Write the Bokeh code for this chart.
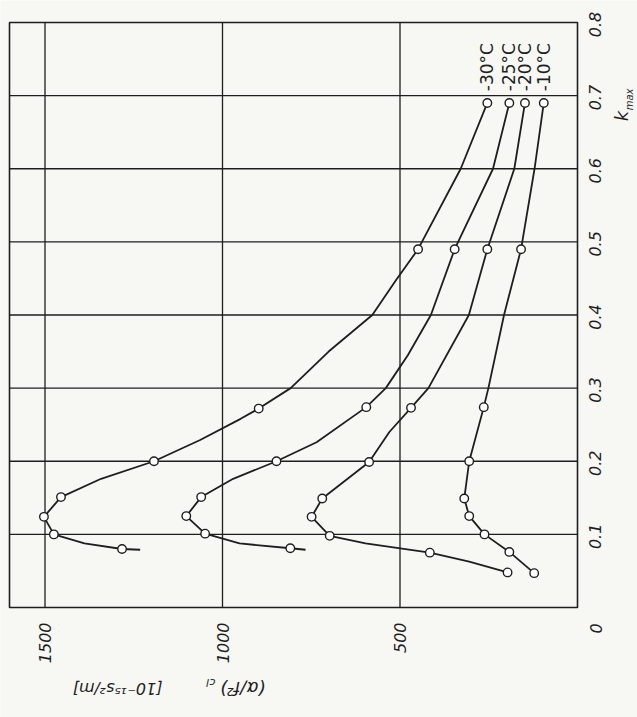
import math
from bokeh.plotting import figure
from bokeh.models import Range1d
from bokeh.core.properties import value
from bokeh.embed import file_html
from bokeh.resources import INLINE

# ---------------- data ----------------
temps = ["-30°C", "-25°C", "-20°C", "-10°C"]

# measured points: alpha/f^2 (10^-15 s^2/m) and k_max
a_m30 = [254, 449, 898, 1193, 1455, 1503, 1475, 1283]
k_m30 = [0.69, 0.49, 0.272, 0.200, 0.151, 0.124, 0.100, 0.080]
a_m25 = [192, 346, 595, 848, 1060, 1102, 1049, 809]
k_m25 = [0.69, 0.49, 0.274, 0.200, 0.151, 0.125, 0.101, 0.081]
a_m20 = [148, 254, 469, 587, 719, 749, 698, 416, 197]
k_m20 = [0.69, 0.49, 0.273, 0.199, 0.149, 0.124, 0.098, 0.075, 0.048]
a_m10 = [95, 159, 264, 305, 319, 305, 262, 192, 122]
k_m10 = [0.69, 0.49, 0.274, 0.200, 0.149, 0.125, 0.100, 0.076, 0.047]

# drawn curves
a_c30 = [254, 329, 449, 511, 578, 701, 808, 898, 949, 1063, 1193, 1342, 1455, 1503, 1475, 1389, 1283, 1232]
k_c30 = [0.69, 0.60, 0.49, 0.448, 0.40, 0.35, 0.30, 0.272, 0.258, 0.229, 0.200, 0.176, 0.151, 0.124, 0.100, 0.0876, 0.080, 0.079]
a_c25 = [192, 238, 346, 413, 478, 540, 595, 735, 848, 970, 1060, 1102, 1049, 952, 809, 766]
k_c25 = [0.69, 0.60, 0.49, 0.40, 0.345, 0.30, 0.274, 0.226, 0.200, 0.176, 0.151, 0.125, 0.101, 0.0876, 0.081, 0.079]
a_c20 = [148, 178, 254, 306, 420, 469, 530, 587, 719, 749, 698, 597, 416, 305, 197]
k_c20 = [0.69, 0.60, 0.49, 0.40, 0.30, 0.273, 0.240, 0.199, 0.149, 0.124, 0.098, 0.0877, 0.075, 0.0627, 0.048]
a_c10 = [95, 121, 159, 207, 251, 264, 305, 319, 305, 262, 192, 122]
k_c10 = [0.69, 0.60, 0.49, 0.40, 0.30, 0.274, 0.200, 0.149, 0.125, 0.100, 0.076, 0.047]

label_a = [254, 192, 148, 95]
label_k = [0.706, 0.706, 0.706, 0.706]

alpha_lim = [0, 1600]
k_lim = [0.0, 0.8]
alpha_ticks = [500, 1000, 1500]
alpha_tick_labels = ["500", "1000", "1500"]
k_ticks = [0.1, 0.2, 0.3, 0.4, 0.5, 0.6, 0.7, 0.8]
k_tick_labels = ["0.1", "0.2", "0.3", "0.4", "0.5", "0.6", "0.7", "0.8"]
k_grid = [0.1, 0.2, 0.3, 0.4, 0.5, 0.6, 0.7]

# ---------------- figure (the frame is drawn inside a full-page plot) ----------------
W, H = 637, 717
FL, FR, FT, FB = 9, 577, 22, 607          # frame edges in page pixels
ax_per_px = (alpha_lim[1] - alpha_lim[0]) / (FR - FL)
k_per_px = (k_lim[1] - k_lim[0]) / (FB - FT)
x_start = alpha_lim[0] + (FR - 0) * ax_per_px
x_end = alpha_lim[0] - (W - FR) * ax_per_px
y_start = k_lim[0] - (H - FB) * k_per_px
y_end = k_lim[0] + FB * k_per_px

BG = "#f7f7f4"
INK = "#1e1e1e"
FONT = "DejaVu Sans"

p = figure(width=W, height=H, output_backend="svg", toolbar_location=None,
           x_range=Range1d(x_start, x_end), y_range=Range1d(y_start, y_end),
           x_axis_location=None, y_axis_location=None, min_border=0)
p.background_fill_color = BG
p.border_fill_color = BG
p.outline_line_color = None
p.xgrid.visible = False
p.ygrid.visible = False

# grid lines
p.segment(x0=alpha_ticks, x1=alpha_ticks, y0=[k_lim[0]] * len(alpha_ticks),
          y1=[k_lim[1]] * len(alpha_ticks), line_color=INK, line_width=1.3)
p.segment(x0=[alpha_lim[0]] * len(k_grid), x1=[alpha_lim[1]] * len(k_grid),
          y0=k_grid, y1=k_grid, line_color=INK, line_width=1.3)
# frame
p.quad(left=[alpha_lim[1]], right=[alpha_lim[0]], bottom=[k_lim[0]], top=[k_lim[1]],
       fill_color=None, line_color=INK, line_width=1.6)

# curves and measured points
curves = [(a_c30, k_c30), (a_c25, k_c25), (a_c20, k_c20), (a_c10, k_c10)]
marks = [(a_m30, k_m30), (a_m25, k_m25), (a_m20, k_m20), (a_m10, k_m10)]
for (ca, ck) in curves:
    p.line(ca, ck, line_color=INK, line_width=1.8)
for (ma, mk) in marks:
    p.scatter(ma, mk, marker="circle", size=8.5, fill_color="white",
              line_color=INK, line_width=1.4)

# curve labels
p.text(x=label_a, y=label_k, text=temps, angle=math.pi / 2,
       text_align="left", text_baseline="middle",
       text_font=value(FONT), text_font_size="17px", text_color=INK)

# tick labels (rotated, as in the printed figure)
p.text(x=alpha_ticks, y=[k_lim[0]] * len(alpha_ticks), text=alpha_tick_labels,
       angle=math.pi / 2, y_offset=15, text_align="right", text_baseline="middle",
       text_font=value(FONT), text_font_style="italic", text_font_size="16px",
       text_color=INK)
p.text(x=[alpha_lim[0]] * len(k_ticks), y=k_ticks, text=k_tick_labels,
       angle=math.pi / 2, x_offset=17, y_offset=2, text_align="center",
       text_baseline="middle",
       text_font=value(FONT), text_font_style="italic", text_font_size="16px",
       text_color=INK)
p.text(x=[alpha_lim[0]], y=[k_lim[0]], text=["0"], angle=math.pi / 2,
       x_offset=18, y_offset=21, text_align="center", text_baseline="middle",
       text_font=value(FONT), text_font_style="italic", text_font_size="16px",
       text_color=INK)

# k_max axis title
p.text(x=[alpha_lim[0]], y=[0.665], text=["k"], angle=math.pi / 2,
       x_offset=44, text_align="left", text_baseline="middle",
       text_font=value(FONT), text_font_style="italic", text_font_size="18px",
       text_color=INK)
p.text(x=[alpha_lim[0]], y=[0.680], text=["max"], angle=math.pi / 2,
       x_offset=52, text_align="left", text_baseline="middle",
       text_font=value(FONT), text_font_style="italic", text_font_size="10px",
       text_color=INK)

# alpha axis title, printed upside down
p.text(x=[879], y=[-0.1108], text=["(α/f²)"], angle=math.pi,
       text_align="left", text_baseline="middle",
       text_font=value(FONT), text_font_style="italic", text_font_size="18px",
       text_color=INK)
p.text(x=[1020], y=[-0.1030], text=["cl"], angle=math.pi,
       text_align="left", text_baseline="middle",
       text_font=value(FONT), text_font_style="italic", text_font_size="11px",
       text_color=INK)
p.text(x=[1422], y=[-0.1108], text=["[10⁻¹⁵s²/m]"], angle=math.pi,
       text_align="right", text_baseline="middle",
       text_font=value(FONT), text_font_style="italic", text_font_size="16px",
       text_color=INK)

open("out.html", "w").write(file_html(p, INLINE))
